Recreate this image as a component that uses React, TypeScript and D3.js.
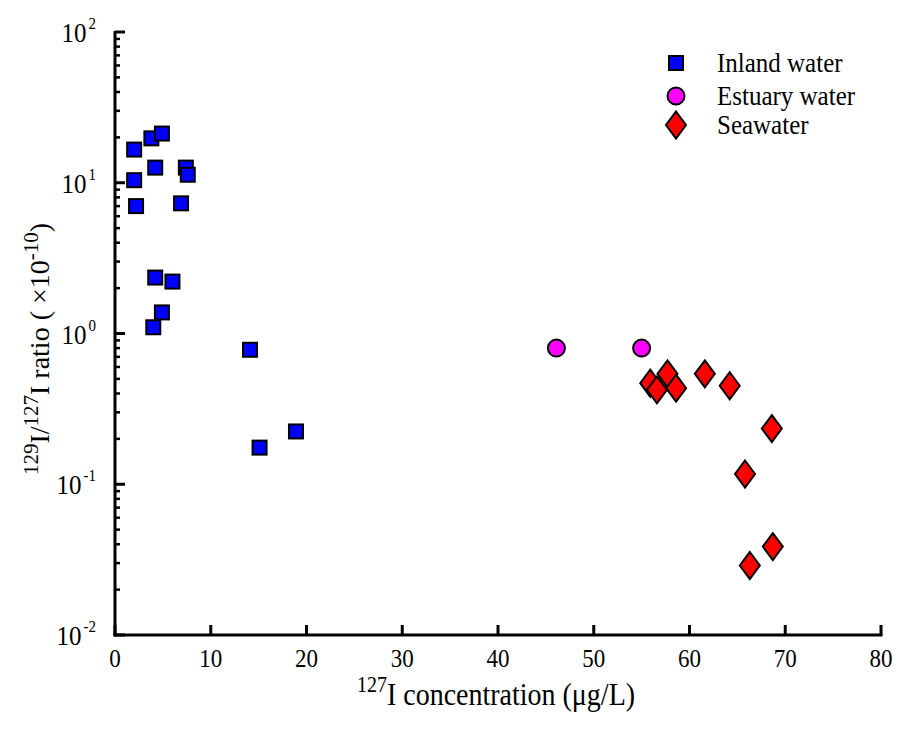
import React, { useEffect, useRef } from "react";
import * as d3 from "d3";

// 127I concentration (ug/L) and 129I/127I ratio (x1e-10)
const inlandX = [2.0, 3.8, 4.9, 2.0, 4.2, 7.4, 7.6, 2.2, 6.9, 4.2, 6.0, 4.9, 4.0, 14.1, 15.1, 18.9];
const inlandY = [16.6, 19.7, 21.2, 10.4, 12.6, 12.6, 11.3, 7.0, 7.3, 2.35, 2.21, 1.38, 1.1, 0.78, 0.175, 0.224];

const estuaryX = [46.1, 55.0];
const estuaryY = [0.8, 0.8];

const seaX = [55.9, 56.6, 57.7, 58.6, 61.6, 64.2, 68.6, 65.8, 68.7, 66.3];
const seaY = [0.468, 0.423, 0.54, 0.434, 0.54, 0.45, 0.234, 0.117, 0.0386, 0.0289];

const xTicks = [0, 10, 20, 30, 40, 50, 60, 70, 80];
const yExponents = [-2, -1, 0, 1, 2];

const legendLabels = ["Inland water", "Estuary water", "Seawater"];

const FONT = "'Liberation Serif', 'Times New Roman', serif";

const App = () => {
  const ref = useRef<SVGSVGElement>(null);

  useEffect(() => {
    const width = 899;
    const height = 729;
    const m = { left: 115, right: 881, top: 32, bottom: 635 };

    const svg = d3.select(ref.current)
      .attr("width", width)
      .attr("height", height)
      .style("font-family", FONT);

    svg.selectAll("*").remove();

    const x = d3.scaleLinear().domain([0, 80]).range([m.left, m.right]);
    const y = d3.scaleLog().domain([0.01, 100]).range([m.bottom, m.top]);

    // axes lines
    svg.append("line")
      .attr("x1", m.left).attr("x2", m.left)
      .attr("y1", m.top - 1).attr("y2", m.bottom + 1.5)
      .attr("stroke", "#000").attr("stroke-width", 3);
    svg.append("line")
      .attr("x1", m.left - 1.5).attr("x2", m.right + 1.5)
      .attr("y1", m.bottom).attr("y2", m.bottom)
      .attr("stroke", "#000").attr("stroke-width", 3);

    // x ticks
    svg.selectAll(".xt")
      .data(xTicks)
      .enter()
      .append("line")
      .attr("x1", d => x(d)).attr("x2", d => x(d))
      .attr("y1", m.bottom).attr("y2", m.bottom - 10)
      .attr("stroke", "#000").attr("stroke-width", 3);

    svg.selectAll(".xl")
      .data(xTicks)
      .enter()
      .append("text")
      .attr("transform", d => `translate(${x(d)},667) scale(1,1.1)`)
      .attr("text-anchor", "middle")
      .attr("font-size", 23)
      .text(d => d);

    // y ticks (major + log minor)
    const minor: number[] = [];
    for (let e = -2; e < 2; e++) {
      for (let k = 2; k <= 9; k++) minor.push(k * Math.pow(10, e));
    }
    svg.selectAll(".ymin")
      .data(minor)
      .enter()
      .append("line")
      .attr("x1", m.left).attr("x2", m.left + 5)
      .attr("y1", d => y(d)).attr("y2", d => y(d))
      .attr("stroke", "#000").attr("stroke-width", 2.5);

    svg.selectAll(".ymaj")
      .data(yExponents)
      .enter()
      .append("line")
      .attr("x1", m.left).attr("x2", m.left + 10)
      .attr("y1", d => y(Math.pow(10, d))).attr("y2", d => y(Math.pow(10, d)))
      .attr("stroke", "#000").attr("stroke-width", 3);

    const yl = svg.selectAll(".yl")
      .data(yExponents)
      .enter()
      .append("text")
      .attr("transform", d => `translate(96,${y(Math.pow(10, d)) + 10}) scale(1,1.08)`)
      .attr("text-anchor", "end")
      .attr("font-size", 25);
    yl.append("tspan").text("10");
    yl.append("tspan")
      .attr("dx", 2)
      .attr("dy", -12)
      .attr("font-size", 15)
      .text(d => (d < 0 ? "-" + Math.abs(d) : String(d)));

    // axis titles
    const xt = svg.append("text")
      .attr("transform", "translate(496,705) scale(1,1.15)")
      .attr("text-anchor", "middle")
      .attr("font-size", 28);
    xt.append("tspan").attr("font-size", 20).attr("dy", -11).text("127");
    xt.append("tspan").attr("dy", 11).text("I concentration (μg/L)");

    const yt = svg.append("text")
      .attr("transform", "translate(49,349) rotate(-90)")
      .attr("text-anchor", "middle")
      .attr("font-size", 28);
    yt.append("tspan").attr("font-size", 21).attr("dy", -11).text("129");
    yt.append("tspan").attr("dy", 11).text("I/");
    yt.append("tspan").attr("font-size", 21).attr("dy", -11).text("127");
    yt.append("tspan").attr("dy", 11).text("I ratio ( ×10");
    yt.append("tspan").attr("font-size", 21).attr("dy", -11).text("-10");
    yt.append("tspan").attr("dy", 11).text(")");

    const diamond = (cx: number, cy: number) =>
      `M${cx},${cy - 13.5}L${cx + 10},${cy}L${cx},${cy + 13.5}L${cx - 10},${cy}Z`;

    // seawater
    svg.selectAll(".sea")
      .data(seaX.map((v, i) => [v, seaY[i]]))
      .enter()
      .append("path")
      .attr("d", d => diamond(x(d[0]), y(d[1])))
      .attr("fill", "#ff0000")
      .attr("stroke", "#000")
      .attr("stroke-width", 2);

    // estuary
    svg.selectAll(".est")
      .data(estuaryX.map((v, i) => [v, estuaryY[i]]))
      .enter()
      .append("circle")
      .attr("cx", d => x(d[0]))
      .attr("cy", d => y(d[1]))
      .attr("r", 8.5)
      .attr("fill", "#ff00ff")
      .attr("stroke", "#000")
      .attr("stroke-width", 2);

    // inland
    svg.selectAll(".inl")
      .data(inlandX.map((v, i) => [v, inlandY[i]]))
      .enter()
      .append("rect")
      .attr("x", d => x(d[0]) - 7)
      .attr("y", d => y(d[1]) - 7)
      .attr("width", 14)
      .attr("height", 14)
      .attr("fill", "#0000ff")
      .attr("stroke", "#000")
      .attr("stroke-width", 2);

    // legend
    const ly = [63, 96, 125];
    const lx = 676;
    svg.append("rect")
      .attr("x", lx - 7).attr("y", ly[0] - 7)
      .attr("width", 14).attr("height", 14)
      .attr("fill", "#0000ff").attr("stroke", "#000").attr("stroke-width", 2);
    svg.append("circle")
      .attr("cx", lx).attr("cy", ly[1]).attr("r", 8.5)
      .attr("fill", "#ff00ff").attr("stroke", "#000").attr("stroke-width", 2);
    svg.append("path")
      .attr("d", diamond(lx, ly[2]))
      .attr("fill", "#ff0000").attr("stroke", "#000").attr("stroke-width", 2);

    svg.selectAll(".lt")
      .data(legendLabels)
      .enter()
      .append("text")
      .attr("transform", (_, i) => `translate(717,${ly[i] + 9}) scale(1,1.1)`)
      .attr("font-size", 25)
      .text(d => d);
  }, []);

  return <svg ref={ref} style={{ position: "absolute", left: 0, top: 0, background: "#fff" }}></svg>;
};

export default App;
